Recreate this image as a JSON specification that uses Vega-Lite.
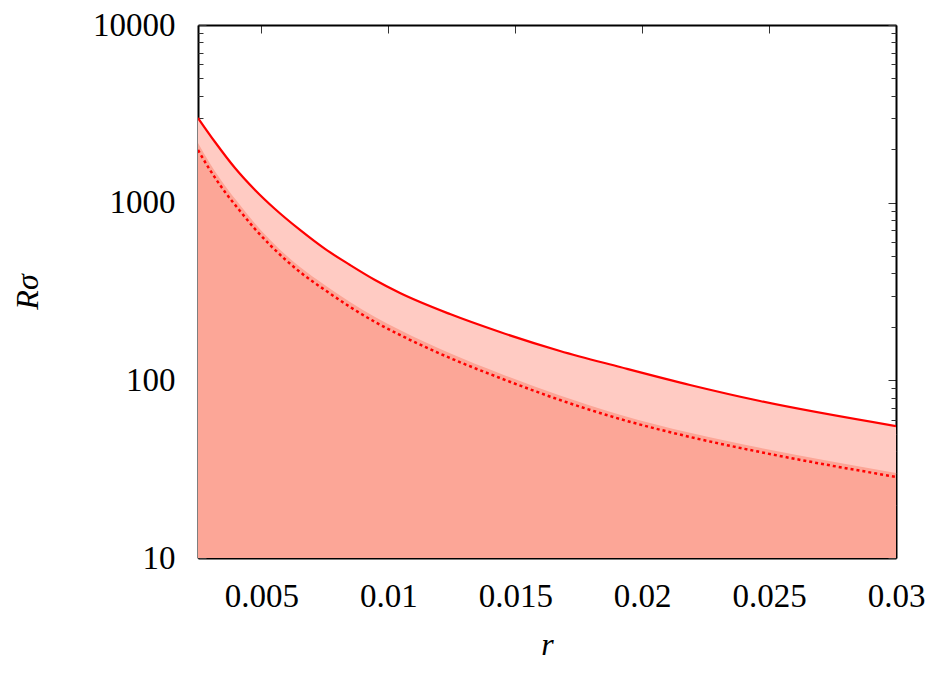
{
  "$schema": "https://vega.github.io/schema/vega-lite/v6.json",
  "width": 698,
  "height": 533,
  "autosize": "none",
  "padding": {"left": 198, "top": 25, "right": 50, "bottom": 116},
  "background": "white",
  "config": {
    "view": {"stroke": null},
    "font": "Liberation Serif",
    "axis": {"grid": false, "labelFont": "Liberation Serif", "titleFont": "Liberation Serif", "labelColor": "black", "titleColor": "black", "tickColor": "#333333", "domainColor": "black", "domainWidth": 2}
  },
  "datasets": {
    "solid": [
      {"r": 0.0025, "R": 2997},
      {"r": 0.00317, "R": 2195},
      {"r": 0.003958, "R": 1567},
      {"r": 0.004746, "R": 1179},
      {"r": 0.005534, "R": 921},
      {"r": 0.006519, "R": 702},
      {"r": 0.007504, "R": 549},
      {"r": 0.008489, "R": 446},
      {"r": 0.009474, "R": 367},
      {"r": 0.010458, "R": 310},
      {"r": 0.012428, "R": 236},
      {"r": 0.014398, "R": 187},
      {"r": 0.016762, "R": 146.3},
      {"r": 0.019126, "R": 118.9},
      {"r": 0.021884, "R": 94.2},
      {"r": 0.024642, "R": 76.5},
      {"r": 0.03, "R": 55.3}
    ],
    "dashed": [
      {"r": 0.0025, "R": 1979},
      {"r": 0.002973, "R": 1527},
      {"r": 0.003564, "R": 1148},
      {"r": 0.004155, "R": 898},
      {"r": 0.004746, "R": 711},
      {"r": 0.005337, "R": 578},
      {"r": 0.006519, "R": 407},
      {"r": 0.007504, "R": 322},
      {"r": 0.008489, "R": 259},
      {"r": 0.009474, "R": 213},
      {"r": 0.010458, "R": 180},
      {"r": 0.012428, "R": 133.6},
      {"r": 0.014398, "R": 103.1},
      {"r": 0.016762, "R": 77.5},
      {"r": 0.019126, "R": 60.6},
      {"r": 0.021884, "R": 48.0},
      {"r": 0.024642, "R": 39.5},
      {"r": 0.03, "R": 28.6}
    ],
    "edge": [
      {"r": 0.0025, "R": 2167},
      {"r": 0.002973, "R": 1664},
      {"r": 0.003564, "R": 1246},
      {"r": 0.004155, "R": 970},
      {"r": 0.004746, "R": 764},
      {"r": 0.005337, "R": 618},
      {"r": 0.006519, "R": 434},
      {"r": 0.007504, "R": 343},
      {"r": 0.008489, "R": 276},
      {"r": 0.009474, "R": 227},
      {"r": 0.010458, "R": 192},
      {"r": 0.012428, "R": 142},
      {"r": 0.014398, "R": 109.3},
      {"r": 0.016762, "R": 82.2},
      {"r": 0.019126, "R": 64.1},
      {"r": 0.021884, "R": 50.7},
      {"r": 0.024642, "R": 41.7},
      {"r": 0.03, "R": 30.1}
    ]
  },
  "layer": [
    {
      "data": {"name": "solid"},
      "mark": {"type": "area", "color": "#ffcbc3", "opacity": 1, "clip": true, "interpolate": "monotone"},
      "encoding": {
        "x": {"field": "r", "type": "quantitative",
          "scale": {"domain": [0.0025, 0.03], "nice": false, "zero": false},
          "axis": {"orient": "bottom", "values": [0.005, 0.01, 0.015, 0.02, 0.025, 0.03], "format": "", "labelExpr": "datum.value == 0.03 ? '0.03' : datum.label", "labelFontSize": 33, "labelPadding": 30, "tickSize": -8, "tickWidth": 1, "title": "r", "titleFontSize": 32, "titleFontStyle": "italic", "titleFontWeight": "normal", "titlePadding": 16, "labelFlush": false}},
        "y": {"field": "R", "type": "quantitative",
          "scale": {"type": "log", "domain": [10, 10000], "nice": false},
          "axis": {"orient": "left", "values": [10, 100, 1000, 10000], "format": "d", "labelFontSize": 33, "labelPadding": 31, "tickSize": -8, "tickWidth": 1, "title": "Rσ", "titleFontSize": 32, "titleFontStyle": "italic", "titleFontWeight": "normal", "titlePadding": 48, "labelFlush": false}},
        "y2": {"datum": 10}
      }
    },
    {
      "data": {"name": "edge"},
      "mark": {"type": "area", "color": "#fca697", "opacity": 1, "clip": true, "interpolate": "monotone"},
      "encoding": {
        "x": {"field": "r", "type": "quantitative",
          "axis": {"orient": "top", "values": [0.005, 0.01, 0.015, 0.02, 0.025, 0.03], "labels": false, "tickSize": -8, "tickWidth": 1, "title": null}},
        "y": {"field": "R", "type": "quantitative",
          "axis": {"orient": "right", "values": [10, 100, 1000, 10000], "labels": false, "tickSize": -8, "tickWidth": 1, "title": null}},
        "y2": {"datum": 10}
      }
    },
    {
      "data": {"name": "dashed"},
      "mark": {"type": "line", "color": "#ff0000", "strokeWidth": 2.5, "strokeDash": [3, 3], "clip": true, "interpolate": "monotone"},
      "encoding": {
        "x": {"field": "r", "type": "quantitative", "axis": null},
        "y": {"field": "R", "type": "quantitative",
          "axis": {"orient": "left", "values": [20, 30, 40, 50, 60, 70, 80, 90, 200, 300, 400, 500, 600, 700, 800, 900, 2000, 3000, 4000, 5000, 6000, 7000, 8000, 9000], "labels": false, "domain": false, "tickSize": -5, "tickWidth": 1, "title": null}}
      }
    },
    {
      "data": {"name": "solid"},
      "mark": {"type": "line", "color": "#ff0000", "strokeWidth": 2.2, "clip": true, "interpolate": "monotone"},
      "encoding": {
        "x": {"field": "r", "type": "quantitative", "axis": null},
        "y": {"field": "R", "type": "quantitative",
          "axis": {"orient": "right", "values": [20, 30, 40, 50, 60, 70, 80, 90, 200, 300, 400, 500, 600, 700, 800, 900, 2000, 3000, 4000, 5000, 6000, 7000, 8000, 9000], "labels": false, "domain": false, "tickSize": -5, "tickWidth": 1, "title": null}}
      }
    }
  ],
  "resolve": {"axis": {"x": "independent", "y": "independent"}}
}
